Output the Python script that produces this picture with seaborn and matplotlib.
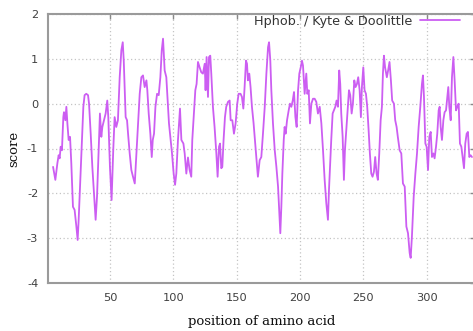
import matplotlib
matplotlib.use('Agg')
import matplotlib.pyplot as plt
import seaborn as sns
import pandas as pd

# --
# Data

position = [
    5.0, 6.8, 8.4, 9.4, 10.2, 11.0, 12.0, 13.1, 13.6, 14.7, 15.5, 16.3, 17.3, 18.4, 19.4,
    20.7, 22.0, 23.4, 24.4, 25.2, 26.5, 27.8, 28.9, 29.9, 31.2, 32.6, 33.4, 34.7, 36.0,
    37.3, 38.6, 39.7, 41.0, 42.0, 43.1, 43.9, 45.2, 46.5, 47.8, 48.6, 49.9, 51.2, 52.5,
    53.6, 54.9, 56.2, 57.6, 58.9, 60.0, 60.8, 61.6, 62.3, 63.4, 64.2, 65.5, 66.8, 68.1,
    69.5, 70.8, 72.1, 73.4, 74.7, 76.0, 77.3, 78.7, 79.4, 80.5, 81.8, 82.9, 83.7, 84.7,
    85.8, 87.1, 88.4, 89.7, 90.8, 91.8, 93.1, 94.4, 95.8, 96.5, 97.6, 98.9, 100.2, 101.3,
    102.3, 103.6, 104.4, 105.2, 106.3, 107.9, 108.9, 110.2, 111.5, 112.8, 114.1, 114.9,
    116.0, 117.3, 118.3, 119.4, 120.7, 122.0, 123.3, 124.7, 125.4, 126.2, 127.3, 128.1,
    129.1, 129.9, 131.2, 132.5, 133.9, 134.9, 136.0, 136.8, 137.8, 138.6, 139.6, 140.7,
    141.7, 143.1, 144.4, 145.2, 146.5, 147.8, 149.1, 150.4, 151.5, 153.0, 154.1, 155.2,
    156.2, 157.3, 158.1, 158.8, 159.9, 160.9, 162.0, 163.3, 164.6, 165.7, 166.7, 168.1,
    169.4, 170.7, 172.1, 173.4, 174.7, 175.5, 176.5, 177.3, 178.6, 180.0, 181.3, 182.6,
    183.4, 184.4, 185.2, 186.0, 187.1, 187.8, 188.6, 189.7, 191.0, 192.0, 193.1, 194.2,
    195.2, 196.3, 197.3, 198.4, 199.4, 200.5, 201.5, 202.3, 203.6, 204.9, 205.7, 206.8,
    207.8, 208.9, 210.2, 211.5, 212.8, 214.1, 215.5, 216.8, 218.1, 219.4, 220.7, 222.0,
    222.8, 223.6, 224.6, 225.7, 226.7, 227.8, 228.8, 229.9, 230.9, 231.7, 232.5, 233.6,
    234.6, 235.4, 236.5, 237.5, 238.6, 239.6, 240.7, 241.7, 242.8, 243.8, 244.9, 245.9,
    247.0, 248.0, 248.8, 249.9, 250.9, 252.0, 253.0, 254.1, 255.1, 256.2, 257.2, 258.3,
    259.3, 260.4, 261.4, 262.5, 263.6, 264.6, 265.4, 266.2, 267.1, 268.5, 269.5, 270.6,
    271.7, 272.7, 274.1, 275.1, 276.2, 277.2, 278.6, 279.9, 281.2, 282.6, 283.9, 285.2,
    286.5, 287.3, 288.3, 289.7, 291.0, 292.3, 293.6, 294.9, 296.2, 297.0, 297.8, 298.9,
    299.9, 301.0, 302.0, 303.1, 304.1, 305.2, 306.2, 307.3, 308.3, 309.4, 310.2, 311.0,
    312.0, 313.1, 314.1, 315.2, 316.2, 317.0, 317.8, 318.9, 319.9, 321.0, 322.0, 323.1,
    324.1, 325.2, 326.2, 327.3, 328.3, 329.4, 330.4, 331.5, 332.5, 333.6, 334.6, 335.7,
]

score = [
    -1.41, -1.70, -1.33, -1.15, -1.22, -0.96, -1.04, -0.30, -0.19, -0.37, -0.07, -0.44, -0.81, -0.74, -1.33,
    -2.30, -2.37, -2.74, -3.04, -2.59, -1.70, -0.81, -0.07, 0.19, 0.22, 0.19, 0.00, -0.67, -1.41,
    -2.00, -2.59, -2.07, -1.04, -0.22, -0.74, -0.52, -0.37, -0.22, 0.07, -0.30, -1.41, -2.15, -1.04,
    -0.30, -0.52, -0.37, 0.59, 1.19, 1.37, 0.96, 0.30, -0.30, -0.37, -0.67, -1.11, -1.48, -1.63,
    -1.78, -1.11, -0.44, 0.22, 0.59, 0.63, 0.37, 0.52, 0.30, -0.22, -0.67, -1.19, -0.81, -0.67,
    -0.07, 0.22, 0.19, 0.59, 1.19, 1.45, 0.74, 0.59, -0.07, -0.44, -0.74, -1.11, -1.56, -1.81,
    -1.56, -0.81, -0.44, -0.11, -0.81, -0.89, -1.11, -1.56, -1.20, -1.48, -1.63, -0.81,
    -0.30, 0.30, 0.44, 0.93, 0.81, 0.70, 0.67, 0.89, 0.30, 1.04, 0.15, 1.04,
    1.07, 0.67, -0.07, -0.52, -1.11, -1.63, -0.96, -0.89, -1.44, -1.41, -0.81, -0.30,
    -0.07, 0.04, 0.07, -0.37, -0.37, -0.67, -0.44, 0.00, 0.22, 0.22, 0.15, -0.11,
    0.37, 0.96, 0.89, 0.52, 0.67, 0.37, -0.07, -0.44, -0.89, -1.26, -1.63, -1.26,
    -1.19, -0.67, -0.07, 0.67, 1.26, 1.37, 0.96, 0.30, -0.44, -1.04, -1.41, -1.85,
    -2.30, -2.89, -2.30, -1.56, -0.81, -0.52, -0.67, -0.37, -0.15, 0.00, -0.07, 0.07,
    0.26, -0.30, -0.52, 0.30, 0.67, 0.81, 0.96, 0.85, 0.22, 0.67, 0.22, 0.30,
    -0.44, 0.00, 0.11, 0.11, 0.04, -0.22, -0.07, -0.44, -1.04, -1.70, -2.22, -2.59,
    -1.93, -1.41, -0.81, -0.22, -0.15, -0.07, 0.07, -0.07, 0.74, 0.44, -0.22, -0.74,
    -1.70, -1.04, -0.59, -0.15, 0.30, 0.19, -0.22, 0.00, 0.52, 0.37, 0.44, 0.59,
    0.30, -0.30, 0.37, 0.81, 0.30, 0.22, -0.07, -0.59, -1.11, -1.56, -1.63, -1.52,
    -1.19, -1.56, -1.70, -1.11, -0.37, -0.07, 0.67, 1.07, 0.81, 0.59, 0.74, 0.93,
    0.52, 0.07, 0.00, -0.37, -0.52, -0.75, -1.04, -1.11, -1.78, -1.85, -2.74, -2.89,
    -3.33, -3.44, -2.96, -2.07, -1.56, -1.11, -0.52, -0.07, 0.44, 0.63, 0.15, -0.89,
    -0.96, -1.48, -0.74, -0.63, -1.19, -1.11, -1.22, -0.96, -0.67, -0.15, -0.07, -0.52,
    -0.81, -0.37, -0.19, -0.15, 0.15, 0.37, -0.07, -0.37, 0.59, 1.04, 0.52, -0.15,
    -0.07, 0.00, -0.89, -0.96, -1.19, -1.44, -0.89, -0.67, -0.63, -1.19, -1.15, -1.19,
]

xticks = [50, 100, 150, 200, 250, 300]
yticks = [-4, -3, -2, -1, 0, 1, 2]
series_label = 'Hphob. / Kyte & Doolittle'

df = pd.DataFrame({'position': position, 'score': score})

# --
# Plot

sns.set_style('white')
plt.rcParams['axes.unicode_minus'] = False

fig = plt.figure(figsize=(4.73, 3.31), dpi=100)
ax = fig.add_axes([48 / 473, 48 / 331, 1.004 - 48 / 473, 269 / 331])

sns.lineplot(data=df, x='position', y='score', ax=ax, color='#cc5ef2',
             linewidth=1.3, label=series_label, sort=False)

ax.set_xlim(1, 338)
ax.set_ylim(-4, 2)
ax.set_xticks(xticks)
ax.set_yticks(yticks)

ax.grid(True, linestyle=(0, (1, 2)), color='#c4c4c4', linewidth=0.9)
for s in ax.spines.values():
    s.set_color('#9a9a9a')
    s.set_linewidth(1.5)

ax.tick_params(direction='in', length=3.5, width=1, color='#888888',
               top=True, right=True, labelsize=8.2, labelcolor='#404040', pad=7)
for lab in ax.get_xticklabels() + ax.get_yticklabels():
    lab.set_family('DejaVu Sans')

ax.set_xlabel('position of amino acid', family='DejaVu Serif', fontsize=9.5,
              color='#111111', labelpad=9)
ax.set_ylabel('score', family='DejaVu Serif', fontsize=9.5, color='#111111',
              labelpad=5)

leg = ax.legend(loc='upper right', bbox_to_anchor=(0.965, 0.997), frameon=False,
                markerfirst=False, handlelength=3.1, handletextpad=0.6,
                borderpad=0, borderaxespad=0,
                prop={'family': 'DejaVu Sans', 'size': 9.2})
for t in leg.get_texts():
    t.set_color('#333333')

fig.savefig('out.png', dpi=100)
